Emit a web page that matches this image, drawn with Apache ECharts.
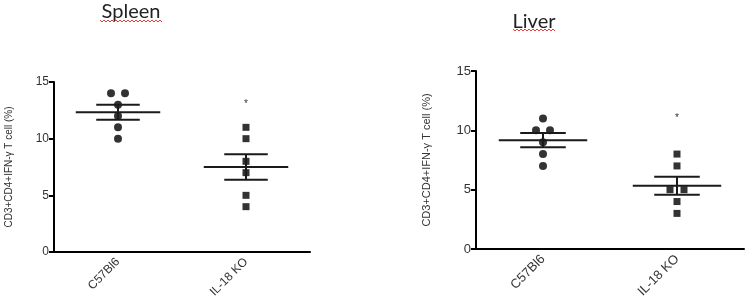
<!DOCTYPE html>
<html>
<head>
<meta charset="utf-8">
<script src="https://cdn.jsdelivr.net/npm/echarts@6/dist/echarts.min.js"></script>
<style>
  html, body { margin: 0; padding: 0; background: #fff; }
  #main { width: 746px; height: 308px; }
</style>
</head>
<body>
<div id="main"></div>
<script>
// groups and individual values
var categories = ['C57Bl6', 'IL-18 KO'];
var spleenC57 = [14, 14, 13, 12, 11, 10];
var spleenKO = [11, 10, 8, 7, 5, 4];
var liverC57 = [11, 10, 10, 9, 8, 7];
var liverKO = [8, 7, 5, 5, 4, 3];
// position of the "*" above each KO group
var starValues = [13.3, 11.3];
var yTicks = [0, 5, 10, 15];
var yName = 'CD3+CD4+IFN-\u03b3 T cell (%)';

var chart = echarts.init(document.getElementById('main'));

// mean and SEM of a group
function stats(arr) {
  var n = arr.length, m = 0, s = 0;
  arr.forEach(function (v) { m += v; });
  m = m / n;
  arr.forEach(function (v) { s += (v - m) * (v - m); });
  var sem = Math.sqrt(s / (n - 1)) / Math.sqrt(n);
  return [m, m - sem, m + sem];
}

// spread equal values sideways like a dot plot
function dots(arr, catIdx) {
  var counts = {};
  arr.forEach(function (v) { counts[v] = (counts[v] || 0) + 1; });
  var seen = {};
  return arr.map(function (v) {
    var k = seen[v] || 0;
    seen[v] = k + 1;
    var off = (k - (counts[v] - 1) / 2) * 14;
    return { value: [catIdx, v], symbolOffset: [off, 0] };
  });
}

function renderSem(params, api) {
  var c = api.coord([api.value(0), api.value(1)]);
  var lo = api.coord([api.value(0), api.value(2)]);
  var hi = api.coord([api.value(0), api.value(3)]);
  var band = api.size([1, 0])[0];
  var cx = c[0];
  var st = { stroke: '#1a1a1a', lineWidth: 2 };
  return {
    type: 'group',
    children: [
      { type: 'line', shape: { x1: cx - band * 0.33, y1: c[1], x2: cx + band * 0.33, y2: c[1] }, style: st },
      { type: 'line', shape: { x1: cx - band * 0.17, y1: hi[1], x2: cx + band * 0.17, y2: hi[1] }, style: st },
      { type: 'line', shape: { x1: cx - band * 0.17, y1: lo[1], x2: cx + band * 0.17, y2: lo[1] }, style: st },
      { type: 'line', shape: { x1: cx, y1: lo[1], x2: cx, y2: hi[1] }, style: st }
    ]
  };
}

function renderStar(params, api) {
  var p = api.coord([api.value(0), api.value(1)]);
  return {
    type: 'text',
    x: p[0], y: p[1] + 3,
    style: { text: '*', fontSize: 10, fill: '#333', align: 'center', verticalAlign: 'middle' }
  };
}

function wavy(x0, x1, y) {
  var pts = [];
  for (var x = x0, i = 0; x <= x1; x += 2, i++) pts.push([x, y + (i % 2 ? 1 : -1)]);
  return { type: 'polyline', shape: { points: pts }, style: { stroke: '#e04040', lineWidth: 1, fill: null }, silent: true, z: 10 };
}

function titleText(txt, x, y) {
  return {
    type: 'text', x: x, y: y, silent: true, z: 10,
    style: { text: txt, fontSize: 20, fill: '#222', fontFamily: 'Lato', align: 'center', verticalAlign: 'middle' }
  };
}

function xAxisOf(gi, fs) {
  return {
    type: 'category', gridIndex: gi, data: categories, boundaryGap: true,
    axisLine: { lineStyle: { color: '#000', width: 2 } },
    axisTick: { alignWithLabel: true, length: 4, lineStyle: { color: '#000', width: 2 } },
    axisLabel: { rotate: 45, fontSize: fs, color: '#333', margin: 8, fontFamily: 'Liberation Sans' },
    splitLine: { show: false }
  };
}

function yAxisOf(gi, fs, nfs, gap) {
  return {
    type: 'value', gridIndex: gi, min: yTicks[0], max: yTicks[yTicks.length - 1], interval: 5,
    name: yName, nameLocation: 'middle', nameRotate: 90, nameGap: gap,
    nameTextStyle: { fontSize: nfs, color: '#333', fontFamily: 'Liberation Sans' },
    axisLine: { show: true, lineStyle: { color: '#000', width: 2 } },
    axisTick: { show: true, length: 5, lineStyle: { color: '#000', width: 2 } },
    axisLabel: { fontSize: fs, color: '#333', margin: 5, fontFamily: 'Liberation Sans' },
    splitLine: { show: false }
  };
}

var groups = [
  { gi: 0, c57: spleenC57, ko: spleenKO, star: starValues[0] },
  { gi: 1, c57: liverC57, ko: liverKO, star: starValues[1] }
];

var series = [];
groups.forEach(function (g) {
  series.push({
    type: 'scatter', xAxisIndex: g.gi, yAxisIndex: g.gi, symbol: 'circle', symbolSize: 8,
    itemStyle: { color: '#000' }, data: dots(g.c57, 0), z: 3
  });
  series.push({
    type: 'scatter', xAxisIndex: g.gi, yAxisIndex: g.gi, symbol: 'rect', symbolSize: 7,
    itemStyle: { color: '#000' }, data: dots(g.ko, 1), z: 3
  });
  series.push({
    type: 'custom', xAxisIndex: g.gi, yAxisIndex: g.gi, renderItem: renderSem,
    data: [[0].concat(stats(g.c57)), [1].concat(stats(g.ko))], z: 4
  });
  series.push({
    type: 'custom', xAxisIndex: g.gi, yAxisIndex: g.gi, renderItem: renderStar,
    data: [[1, g.star]], z: 4
  });
});

var option = {
  backgroundColor: '#fff',
  animation: false,
  graphic: [
    titleText('Spleen', 131, 12),
    titleText('Liver', 534, 22),
    wavy(100, 163, 21),
    wavy(513, 556, 30)
  ],
  grid: [
    { left: 54, top: 82, width: 256, height: 170 },
    { left: 476, top: 71, width: 268, height: 178 }
  ],
  xAxis: [xAxisOf(0, 12), xAxisOf(1, 13)],
  yAxis: [yAxisOf(0, 12, 10, 40), yAxisOf(1, 13, 11, 44)],
  series: series
};

chart.setOption(option);
</script>
</body>
</html>
